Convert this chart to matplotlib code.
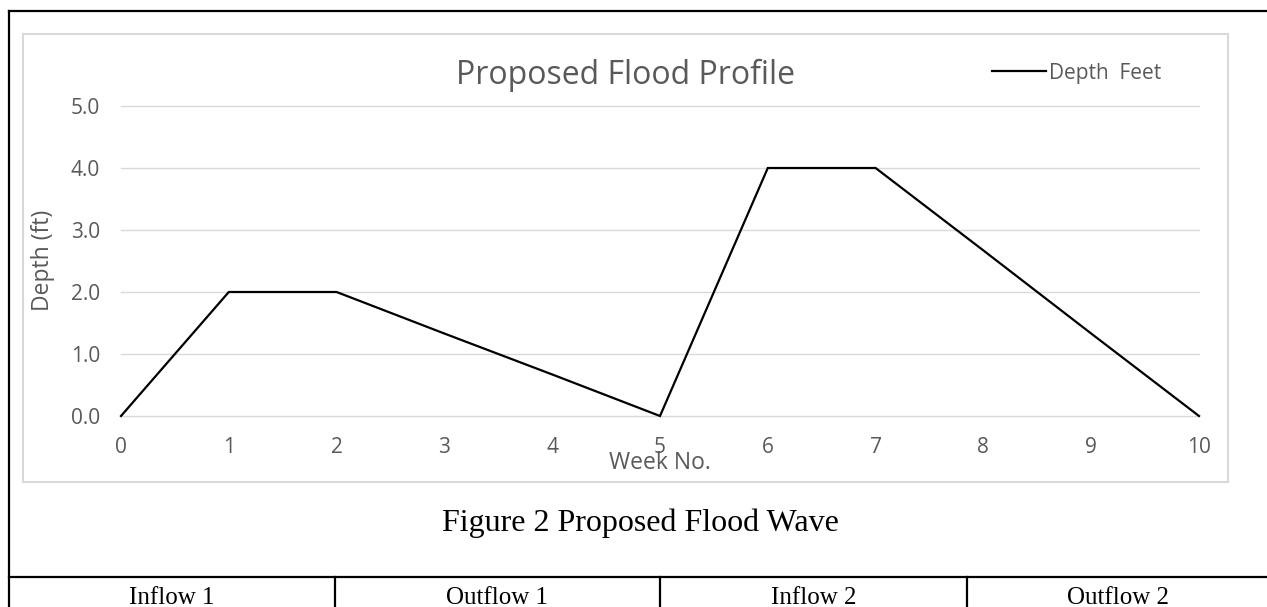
"""Proposed flood profile chart as it sits on the report page:
outer page border, grey chart frame, caption and the first table row."""

import matplotlib
matplotlib.use("Agg")
import matplotlib.pyplot as plt
import matplotlib.patches as mpatches
from matplotlib.lines import Line2D
from matplotlib.transforms import blended_transform_factory

W, H = 1267, 607

weeks = [0, 1, 2, 3, 4, 5, 6, 7, 8, 9, 10]
depth_ft = [0.0, 2.0, 2.0, 1.33, 0.67, 0.0, 4.0, 4.0, 2.67, 1.33, 0.0]
y_ticks = [0.0, 1.0, 2.0, 3.0, 4.0, 5.0]
table_cells = ["Inflow 1", "Outflow 1", "Inflow 2", "Outflow 2"]
series_name = "Depth  Feet"

GREY = "#595959"
GRID = "#d9d9d9"
SANS = ["Open Sans", "DejaVu Sans"]
SERIF = ["Liberation Serif", "DejaVu Serif"]
FS = 15


def fx(px):
    return px / W


def fy(py):
    return 1 - py / H


def main():
    fig = plt.figure(figsize=(W / 100, H / 100), dpi=100)

    # plot area in pixel terms: x 121..1199, y 106..416
    ax = fig.add_axes([fx(121), fy(416), fx(1199) - fx(121), fy(106) - fy(416)])
    ax.plot(weeks, depth_ft, color="black", lw=1.6, solid_joinstyle="miter",
            label=series_name, zorder=3, clip_on=False)
    ax.set_xlim(0, 10)
    ax.set_ylim(0, 5)
    ax.set_xticks(weeks)
    ax.set_yticks(y_ticks)
    ax.set_yticklabels([f"{v:.1f}" for v in y_ticks])
    ax.grid(axis="y", color=GRID, lw=1.0)
    for gl in ax.yaxis.get_gridlines():
        gl.set_clip_on(False)
    ax.set_axisbelow(True)
    for s in ax.spines.values():
        s.set_visible(False)
    ax.tick_params(length=0, labelsize=FS, labelcolor=GREY, pad=15)
    for lab in ax.get_xticklabels() + ax.get_yticklabels():
        lab.set_family(SANS)

    # chart title sits a little left of the plot centre, as in Excel
    ax.set_title("Proposed Flood Profile", fontsize=23, color=GREY,
                 family=SANS, pad=16, x=(626 - 121) / (1199 - 121))

    # axis titles, placed where the original chart had them
    trans = blended_transform_factory(ax.transData, fig.transFigure)
    ax.text(5, fy(463), "Week No.", transform=trans, ha="center", va="center",
            fontsize=16.5, color=GREY, family=SANS)
    fig.text(fx(43), fy(260), "Depth (ft)", rotation=90, ha="center",
             va="center", fontsize=16.5, color=GREY, family=SANS)

    leg = fig.legend(loc="center left", bbox_to_anchor=(fx(992), fy(73)),
                     frameon=False, handlelength=2.6, handletextpad=0.15,
                     borderpad=0, borderaxespad=0,
                     prop={"family": SANS, "size": FS})
    for t in leg.get_texts():
        t.set_color(GREY)

    # grey chart frame
    fig.patches.append(mpatches.Rectangle(
        (fx(23), fy(482)), fx(1228) - fx(23), fy(34) - fy(482),
        transform=fig.transFigure, fill=False, edgecolor=GRID, lw=1.5))

    # page/table borders
    border = dict(color="black", lw=1.6, transform=fig.transFigure)
    fig.lines.append(Line2D([fx(9), fx(9)], [fy(11), 0], **border))
    fig.lines.append(Line2D([fx(9), 1], [fy(11), fy(11)], **border))
    fig.lines.append(Line2D([fx(9), 1], [fy(577), fy(577)], **border))
    edges = [9, 335, 660, 967, 1269]
    for x in edges[1:-1]:
        fig.lines.append(Line2D([fx(x), fx(x)], [fy(577), 0], **border))

    fig.text(fx(640), fy(523), "Figure 2 Proposed Flood Wave", ha="center",
             va="center", fontsize=23, family=SERIF)
    for i, cell in enumerate(table_cells):
        xc = (edges[i] + edges[i + 1]) / 2
        fig.text(fx(xc), fy(598), cell, ha="center", va="center",
                 fontsize=18, family=SERIF)

    fig.savefig("out.png", dpi=100)


if __name__ == "__main__":
    main()
